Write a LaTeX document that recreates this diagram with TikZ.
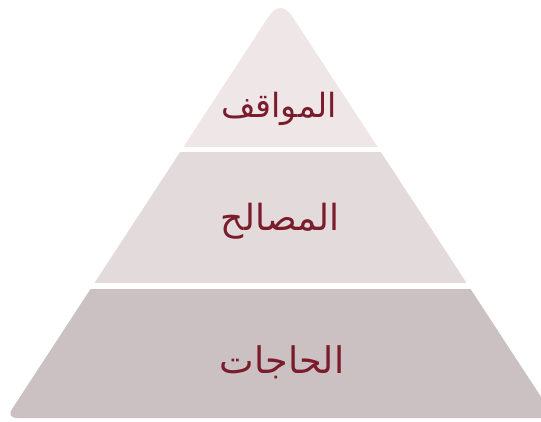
\documentclass[tikz,border=0pt]{standalone}
\usepackage{fontspec}
\newfontfamily\arabicfont[Script=Arabic]{DejaVu Sans}
\TeXXeTstate=1
\definecolor{topband}{HTML}{EEE6E7}
\definecolor{midband}{HTML}{E3DBDB}
\definecolor{lowband}{HTML}{CBC1C2}
\definecolor{labelred}{HTML}{7A1C2C}
\begin{document}
\begin{tikzpicture}[x=0.75pt,y=-0.75pt,
  lbl/.style={anchor=base,inner sep=0pt,text=labelred}]
\useasboundingbox (0,0) rectangle (541,421);
\def\pyr{(18.1,418) .. controls (10.1,418) and (8.3,414.7) .. (12.7,408)
  -- (268,17.6) .. controls (276.3,4.8) and (284.7,4.8) .. (293,17.6)
  -- (554.9,418) -- cycle}
\begin{scope}
  \clip (-10,-20) rectangle (560,146);
  \fill[topband] \pyr;
\end{scope}
\begin{scope}
  \clip (-10,152.3) rectangle (560,282);
  \fill[midband] \pyr;
\end{scope}
\begin{scope}
  \clip (-10,289) rectangle (560,430);
  \fill[lowband] \pyr;
\end{scope}
\node[lbl,font=\arabicfont\fontsize{25}{30}\selectfont] (top) at (279,117) {\beginR المواقف\endR};
\node[lbl,font=\arabicfont\fontsize{27}{32}\selectfont] (mid) at (280,230) {\beginR المصالح\endR};
\node[lbl,font=\arabicfont\fontsize{27.5}{33}\selectfont] (low) at (282,373) {\beginR الحاجات\endR};
\end{tikzpicture}
\end{document}
